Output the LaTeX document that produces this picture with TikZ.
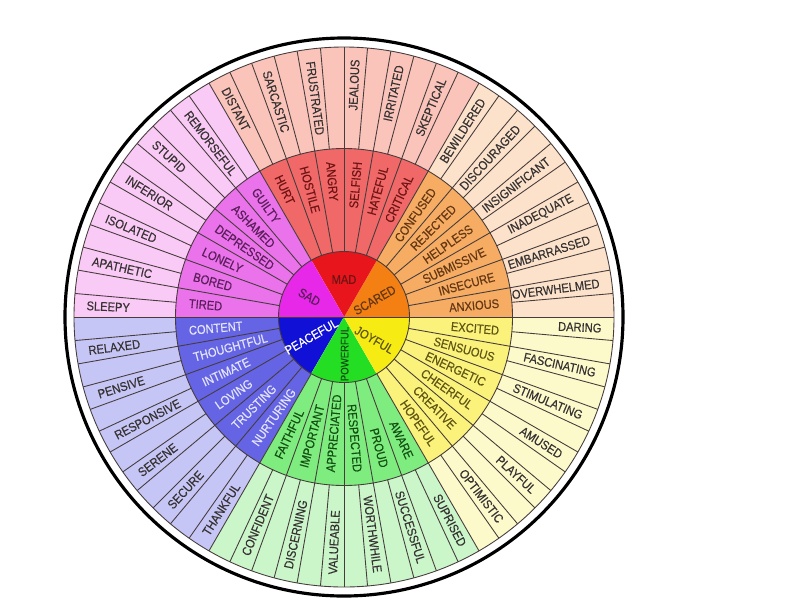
\documentclass[tikz,border=0pt]{standalone}
\usepackage{fontspec}
\setmainfont{Liberation Sans}[FakeStretch=0.88,FakeBold=0.4]
\definecolor{linegray}{RGB}{70,60,60}
\definecolor{sadcore}{RGB}{232,40,232}
\definecolor{sadmid}{RGB}{234,114,234}
\definecolor{sadout}{RGB}{250,202,246}
\definecolor{madcore}{RGB}{232,22,28}
\definecolor{madmid}{RGB}{240,104,104}
\definecolor{madout}{RGB}{250,196,186}
\definecolor{scaredcore}{RGB}{244,128,20}
\definecolor{scaredmid}{RGB}{246,172,98}
\definecolor{scaredout}{RGB}{252,226,202}
\definecolor{joycore}{RGB}{246,236,20}
\definecolor{joymid}{RGB}{250,242,122}
\definecolor{joyout}{RGB}{252,250,202}
\definecolor{powcore}{RGB}{36,222,36}
\definecolor{powmid}{RGB}{126,236,126}
\definecolor{powout}{RGB}{202,246,202}
\definecolor{peacecore}{RGB}{16,16,214}
\definecolor{peacemid}{RGB}{100,100,228}
\definecolor{peaceout}{RGB}{198,198,246}
\definecolor{txtgray}{RGB}{55,50,50}
\definecolor{sadtxt}{RGB}{90,30,90}
\definecolor{madtxt}{RGB}{110,20,20}
\definecolor{scaredtxt}{RGB}{100,55,20}
\definecolor{joytxt}{RGB}{95,85,20}
\definecolor{powtxt}{RGB}{20,80,20}
\definecolor{peacetxt}{RGB}{228,228,250}
\tikzset{
	ring line/.style={draw=linegray,line width=0.5pt},
	feel/.style={inner sep=0pt,font=\fontsize{7.2}{8}\selectfont},
}

\begin{document}
\begin{tikzpicture}
	\fill[white] (-6.88,-5.66) rectangle (9.12,6.34);
	\useasboundingbox (-6.88,-5.66) rectangle (9.12,6.34);
	% three rings of wedges
	\foreach \a/\c in {0/scared,60/mad,120/sad,180/peace,240/pow,300/joy}{
		\fill[\c out] (0,0) -- (\a:5.4) arc[start angle=\a,delta angle=60,radius=5.4] -- cycle;
		\fill[\c mid] (0,0) -- (\a:3.37) arc[start angle=\a,delta angle=60,radius=3.37] -- cycle;
		\fill[\c core] (0,0) -- (\a:1.31) arc[start angle=\a,delta angle=60,radius=1.31] -- cycle;
	}
	\foreach \a in {0,5,...,355}
		\draw[ring line] (\a:3.37) -- (\a:5.4);
	\foreach \a in {0,10,...,350}
		\draw[ring line] (\a:1.31) -- (\a:3.37);
	\draw[ring line] (180:1.31) -- (0:1.31);
	\draw[ring line] (0,0) circle[radius=1.31];
	\draw[ring line] (0,0) circle[radius=3.37];
	\draw[ring line] (0,0) circle[radius=5.4];
	\draw[line width=1.8pt] (0,0) circle[radius=5.58];
	% outer words
	\foreach \w [count=\i from 0] in {WORTHWHILE,SUCCESSFUL,SUPRISED,OPTIMISTIC,PLAYFUL,AMUSED,STIMULATING,FASCINATING,DARING,OVERWHELMED,EMBARRASSED,INADEQUATE,INSIGNIFICANT,DISCOURAGED,BEWILDERED,SKEPTICAL,IRRITATED,JEALOUS}{
		\pgfmathsetmacro\ang{-82.5+10*\i}
		\node[feel,text=txtgray,rotate=\ang,anchor=east] (outR-\i) at (\ang:5.16) {\w};
	}
	\foreach \w [count=\i from 0] in {FRUSTRATED,SARCASTIC,DISTANT,REMORSEFUL,STUPID,INFERIOR,ISOLATED,APATHETIC,SLEEPY,RELAXED,PENSIVE,RESPONSIVE,SERENE,SECURE,THANKFUL,CONFIDENT,DISCERNING,VALUEABLE}{
		\pgfmathsetmacro\ang{97.5+10*\i}
		\node[feel,text=txtgray,rotate=\ang-180,anchor=west] (outL-\i) at (\ang:5.16) {\w};
	}
	% middle words
	\foreach \w/\t [count=\i from 0] in {RESPECTED/pow,PROUD/pow,AWARE/pow,HOPEFUL/joy,CREATIVE/joy,CHEERFUL/joy,ENERGETIC/joy,SENSUOUS/joy,EXCITED/joy,ANXIOUS/scared,INSECURE/scared,SUBMISSIVE/scared,HELPLESS/scared,REJECTED/scared,CONFUSED/scared,CRITICAL/mad,HATEFUL/mad,SELFISH/mad}{
		\pgfmathsetmacro\ang{-85+10*\i}
		\node[feel,text=\t txt,rotate=\ang,anchor=east] (midR-\i) at (\ang:3.12) {\w};
	}
	\foreach \w/\t [count=\i from 0] in {ANGRY/mad,HOSTILE/mad,HURT/mad,GUILTY/sad,ASHAMED/sad,DEPRESSED/sad,LONELY/sad,BORED/sad,TIRED/sad,CONTENT/peace,THOUGHTFUL/peace,INTIMATE/peace,LOVING/peace,TRUSTING/peace,NURTURING/peace,FAITHFUL/pow,IMPORTANT/pow,APPRECIATED/pow}{
		\pgfmathsetmacro\ang{95+10*\i}
		\node[feel,text=\t txt,rotate=\ang-180,anchor=west] (midL-\i) at (\ang:3.12) {\w};
	}
	% core words
	\node[feel,text=madtxt] (mad) at (90:0.75) {MAD};
	\node[feel,text=sadtxt,rotate=-30] (sad) at (150:0.8) {SAD};
	\node[feel,text=scaredtxt,rotate=30] (scared) at (29:0.7) {SCARED};
	\node[feel,text=joytxt,rotate=-30] (joyful) at (323:0.76) {JOYFUL};
	\node[feel,text=powtxt,rotate=90,font=\fontsize{6.2}{7}\selectfont] (powerful) at (271:0.74) {POWERFUL};
	\node[feel,text=white,rotate=30] (peaceful) at (211:0.76) {PEACEFUL};
\end{tikzpicture}
\end{document}
